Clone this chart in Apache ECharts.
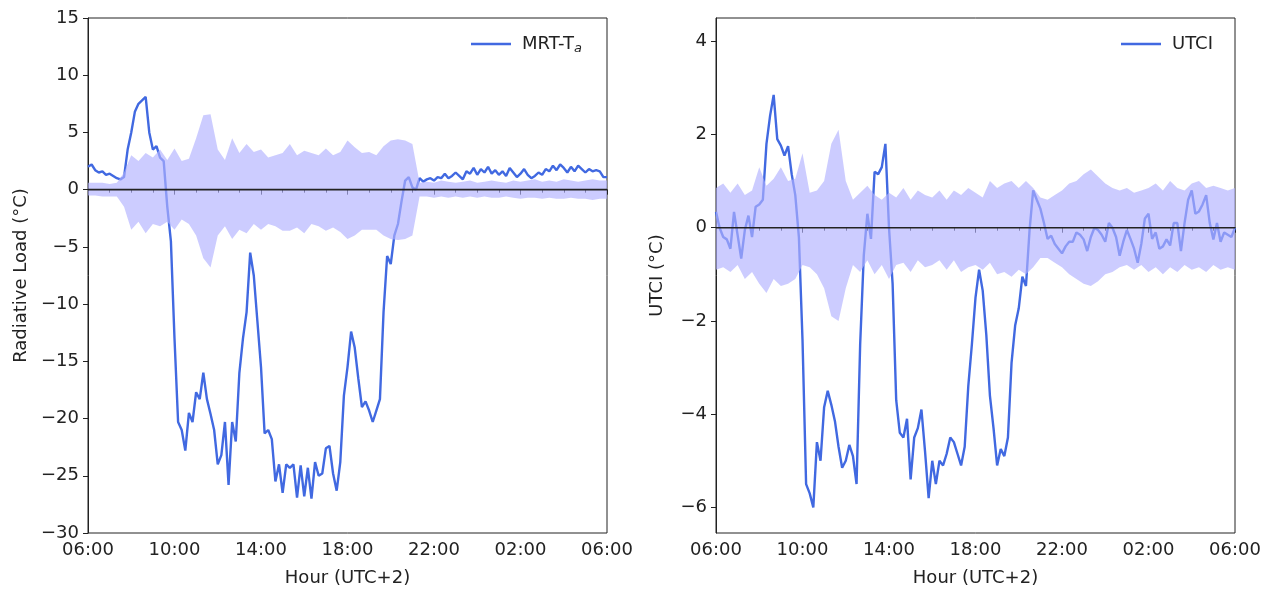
<!DOCTYPE html>
<html>
<head>
<meta charset="utf-8">
<script src="https://cdn.jsdelivr.net/npm/echarts@6/dist/echarts.min.js"></script>
<style>
  html, body { margin: 0; padding: 0; background: #fff; }
  #chart { width: 1269px; height: 592px; }
</style>
</head>
<body>
<div id="chart"></div>
<script>
// Hours since 06:00; line sampled every 10 min, spread band every 20 min
const lineStep = 1 / 6;
const bandStep = 1 / 3;
const hourTickLabels = ['06:00', '10:00', '14:00', '18:00', '22:00', '02:00', '06:00'];
const utciTicks = [-6, -4, -2, 0, 2, 4];

// MRT - Ta (radiative load)
const mrtLine = [
  2.0, 2.2, 1.7, 1.5, 1.6, 1.3, 1.4, 1.2, 1.0, 0.9,
  1.1, 3.5, 5.0, 6.8, 7.5, 7.8, 8.1, 5.0, 3.5, 3.8,
  2.8, 2.5, -1.5, -4.5, -13.0, -20.3, -21.0, -22.8, -19.5, -20.3,
  -17.7, -18.3, -16.0, -18.3, -19.6, -21.0, -24.0, -23.2, -20.3, -25.8,
  -20.3, -22.0, -16.0, -13.0, -10.7, -5.5, -7.5, -11.5, -15.5, -21.3,
  -21.0, -21.8, -25.5, -24.0, -26.5, -24.0, -24.3, -24.0, -26.9, -24.1,
  -26.8, -24.3, -27.0, -23.8, -25.0, -24.8, -22.6, -22.4, -24.8, -26.3,
  -23.8, -18.0, -15.5, -12.4, -13.8, -16.5, -19.0, -18.5, -19.3, -20.3,
  -19.3, -18.3, -10.7, -5.8, -6.5, -4.0, -3.0, -1.0, 0.8, 1.1,
  0.2, 0.0, 1.0, 0.7, 0.9, 1.0, 0.8, 1.1, 1.0, 1.4,
  1.0, 1.2, 1.5, 1.2, 0.9, 1.6, 1.4, 1.9, 1.3, 1.8,
  1.5, 2.0, 1.4, 1.7, 1.3, 1.6, 1.2, 1.9, 1.5, 1.1,
  1.4, 1.8, 1.3, 1.0, 1.2, 1.5, 1.3, 1.8, 1.6, 2.1,
  1.7, 2.2, 1.9, 1.5, 2.0, 1.6, 2.1, 1.8, 1.5, 1.8,
  1.6, 1.7, 1.6, 1.1, 1.1
];
const mrtUpper = [
  0.6, 0.6, 0.6, 0.5, 0.6, 1.5, 3.0, 2.5, 3.2, 2.8,
  3.5, 2.6, 3.6, 2.5, 2.7, 4.5, 6.5, 6.6, 3.5, 2.6,
  4.5, 3.2, 4.0, 3.3, 3.5, 2.8, 3.0, 3.2, 4.0, 3.0,
  3.4, 3.2, 3.0, 3.6, 3.0, 3.3, 4.3, 3.7, 3.2, 3.3,
  3.0, 3.8, 4.3, 4.4, 4.3, 4.0, 0.6, 0.7, 0.6, 0.8,
  0.7, 0.6, 0.7, 0.8, 0.6, 0.7, 0.8, 0.7, 0.6, 0.8,
  0.7, 0.8, 0.9, 0.7, 0.8, 0.7, 0.9, 0.8, 0.7, 0.8,
  0.9, 0.8, 0.8
];
const mrtLower = [
  -0.5, -0.5, -0.6, -0.6, -0.6, -1.5, -3.5, -2.8, -3.8, -3.0,
  -3.2, -2.8, -3.5, -2.6, -3.0, -4.0, -6.0, -6.8, -4.0, -3.2,
  -4.3, -3.5, -3.8, -3.0, -3.5, -3.0, -3.2, -3.6, -3.6, -3.3,
  -3.8, -3.0, -3.2, -3.6, -3.3, -3.7, -4.3, -4.0, -3.5, -3.5,
  -3.5, -4.0, -4.3, -4.4, -4.3, -4.0, -0.6, -0.6, -0.7, -0.6,
  -0.7, -0.6, -0.7, -0.6, -0.7, -0.6, -0.7, -0.7, -0.6, -0.7,
  -0.8, -0.7, -0.7, -0.8, -0.7, -0.8, -0.8, -0.7, -0.8, -0.8,
  -0.9, -0.8, -0.8
];

// UTCI
const utciLine = [
  0.34, 0.0, -0.2, -0.25, -0.45, 0.34, -0.16, -0.66, -0.05, 0.26,
  -0.2, 0.45, 0.5, 0.6, 1.8, 2.4, 2.85, 1.9, 1.76, 1.55,
  1.75, 1.15, 0.7, -0.2, -2.4, -5.5, -5.7, -6.0, -4.6, -5.0,
  -3.85, -3.5, -3.8, -4.15, -4.7, -5.15, -5.0, -4.66, -4.9, -5.5,
  -2.5, -0.6, 0.3, -0.24, 1.2, 1.15, 1.3, 1.8, 0.0, -1.2,
  -3.7, -4.4, -4.5, -4.1, -5.4, -4.5, -4.3, -3.9, -4.8, -5.8,
  -5.0, -5.5, -5.0, -5.1, -4.85, -4.5, -4.6, -4.85, -5.1, -4.7,
  -3.4, -2.5, -1.5, -0.9, -1.35, -2.3, -3.6, -4.3, -5.1, -4.75,
  -4.9, -4.5, -2.9, -2.1, -1.73, -1.05, -1.25, -0.05, 0.8, 0.6,
  0.41, 0.1, -0.24, -0.17, -0.35, -0.45, -0.55, -0.4, -0.3, -0.3,
  -0.1, -0.15, -0.25, -0.5, -0.2, 0.0, -0.05, -0.15, -0.3, 0.1,
  0.0, -0.2, -0.6, -0.3, -0.05, -0.24, -0.45, -0.75, -0.35, 0.2,
  0.3, -0.24, -0.1, -0.45, -0.4, -0.25, -0.38, 0.1, 0.1, -0.5,
  0.1, 0.6, 0.8, 0.3, 0.35, 0.5, 0.7, 0.1, -0.25, 0.1,
  -0.3, -0.1, -0.15, -0.2, 0.0
];
const utciUpper = [
  0.85, 0.95, 0.75, 0.95, 0.7, 0.8, 1.3, 0.9, 1.05, 1.3,
  1.0, 1.05, 1.6, 0.75, 0.8, 1.0, 1.8, 2.1, 1.0, 0.6,
  0.75, 0.9, 0.7, 0.6, 0.75, 0.65, 0.85, 0.6, 0.8, 0.7,
  0.65, 0.8, 0.6, 0.8, 0.7, 0.85, 0.75, 0.65, 1.0, 0.85,
  0.95, 1.0, 0.85, 1.0, 0.85, 0.65, 0.6, 0.7, 0.8, 0.95,
  1.0, 1.15, 1.25, 1.1, 0.95, 0.85, 0.8, 0.85, 0.75, 0.8,
  0.85, 0.95, 0.8, 1.0, 0.85, 0.8, 0.95, 1.0, 0.85, 0.9,
  0.85, 0.8, 0.85
];
const utciLower = [
  -0.9, -0.85, -0.95, -0.8, -1.1, -0.95, -1.2, -1.4, -1.1, -1.25,
  -1.2, -1.1, -0.8, -0.85, -1.0, -1.3, -1.9, -2.0, -1.3, -0.8,
  -0.95, -0.7, -1.0, -0.8, -1.1, -0.8, -0.75, -0.95, -0.7, -0.85,
  -0.8, -0.7, -0.9, -0.7, -0.95, -0.85, -0.8, -0.9, -0.75, -1.0,
  -0.95, -1.05, -0.9, -1.0, -0.85, -0.65, -0.65, -0.75, -0.85, -1.0,
  -1.1, -1.2, -1.25, -1.15, -1.0, -0.95, -0.85, -0.8, -0.9, -0.8,
  -0.95, -0.85, -1.0, -0.85, -0.95, -0.8, -0.9, -0.85, -0.95, -0.8,
  -0.9, -0.85, -0.9
];

const LINE_COLOR = '#4169e1';
const BAND_COLOR = 'rgba(178, 178, 255, 0.66)';
const AXIS_COLOR = '#222';
const FONT = 'DejaVu Sans';

const toPoints = (vals, step) => vals.map((v, i) => [i * step, v]);

function makeXAxis(gridIndex) {
  return {
    type: 'value', gridIndex, min: 0, max: 24, interval: 4,
    name: 'Hour (UTC+2)', nameLocation: 'middle', nameGap: 36,
    nameTextStyle: { fontFamily: FONT, fontSize: 18, color: AXIS_COLOR },
    axisLine: { lineStyle: { color: AXIS_COLOR, width: 1 } },
    axisTick: { show: true, length: 5, lineStyle: { color: AXIS_COLOR } },
    minorTick: { show: true, splitNumber: 4, length: 3, lineStyle: { color: AXIS_COLOR } },
    axisLabel: {
      fontFamily: FONT, fontSize: 18, color: AXIS_COLOR, margin: 8,
      showMinLabel: true, showMaxLabel: true,
      formatter: v => hourTickLabels[Math.round(v / 4)]
    },
    splitLine: { show: false }
  };
}

function makeYAxis(gridIndex, name, extra, nameGap) {
  return Object.assign({
    type: 'value', gridIndex, name, nameLocation: 'middle', nameGap,
    nameTextStyle: { fontFamily: FONT, fontSize: 18, color: AXIS_COLOR },
    axisLine: { show: true, lineStyle: { color: AXIS_COLOR, width: 1 } },
    axisTick: { show: true, length: 5, lineStyle: { color: AXIS_COLOR } },
    axisLabel: { fontFamily: FONT, fontSize: 18, color: AXIS_COLOR, margin: 9,
      formatter: v => (v < 0 ? '\u2212' + Math.abs(v) : String(v)) },
    splitLine: { show: false }
  }, extra);
}

// band polygon: upper edge left->right, lower edge right->left
function bandSeries(idx, upper, lower) {
  return {
    type: 'custom', xAxisIndex: idx, yAxisIndex: idx, silent: true, z: 3,
    data: [[0, 0]],
    renderItem: (params, api) => {
      const pts = [];
      upper.forEach((u, i) => pts.push(api.coord([i * bandStep, u])));
      for (let i = lower.length - 1; i >= 0; i--) pts.push(api.coord([i * bandStep, lower[i]]));
      return { type: 'polygon', shape: { points: pts }, style: { fill: BAND_COLOR } };
    }
  };
}

function panelSeries(idx, name, line, upper, lower) {
  return [
    {
      name, type: 'line', xAxisIndex: idx, yAxisIndex: idx,
      data: toPoints(line, lineStep), showSymbol: false, symbol: 'none',
      lineStyle: { color: LINE_COLOR, width: 2.4 }, itemStyle: { color: LINE_COLOR },
      z: 2
    },
    bandSeries(idx, upper, lower),
    {
      type: 'line', xAxisIndex: idx, yAxisIndex: idx, data: [[0, 0], [24, 0]],
      symbol: 'none', lineStyle: { color: AXIS_COLOR, width: 1.6 }, silent: true, z: 5
    }
  ];
}

const chart = echarts.init(document.getElementById('chart'), null, { renderer: 'canvas' });

const legendBase = {
  orient: 'horizontal', top: 30, icon: 'rect', itemWidth: 40, itemHeight: 2.5,
  itemStyle: { color: LINE_COLOR },
  textStyle: {
    fontFamily: FONT, fontSize: 18, color: AXIS_COLOR, padding: [0, 0, 0, 6],
    rich: {
      n: { fontFamily: FONT, fontSize: 18, color: AXIS_COLOR },
      s: { fontFamily: FONT, fontSize: 13, fontStyle: 'italic', color: AXIS_COLOR, padding: [9, 0, 0, 0] }
    }
  }
};

chart.setOption({
  animation: false,
  backgroundColor: '#fff',
  grid: [
    { left: 88, top: 18, width: 519, height: 517, show: true, borderColor: AXIS_COLOR, borderWidth: 1, backgroundColor: 'transparent' },
    { left: 716, top: 18, width: 519, height: 517, show: true, borderColor: AXIS_COLOR, borderWidth: 1, backgroundColor: 'transparent' }
  ],
  legend: [
    Object.assign({}, legendBase, {
      left: 466, data: ['MRT-Ta'],
      formatter: () => '{n|MRT-T}{s|a}'
    }),
    Object.assign({}, legendBase, { left: 1116, data: ['UTCI'] })
  ],
  xAxis: [makeXAxis(0), makeXAxis(1)],
  yAxis: [
    makeYAxis(0, 'Radiative Load (\u00b0C)', { min: -30, max: 15, interval: 5 }, 58),
    makeYAxis(1, 'UTCI (\u00b0C)', {
      min: -6.55, max: 4.5,
      axisTick: { show: true, length: 5, lineStyle: { color: AXIS_COLOR }, customValues: utciTicks },
      axisLabel: { fontFamily: FONT, fontSize: 18, color: AXIS_COLOR, margin: 9, customValues: utciTicks,
        formatter: v => (v < 0 ? '\u2212' + Math.abs(v) : String(v)) }
    }, 50)
  ],
  series: [
    ...panelSeries(0, 'MRT-Ta', mrtLine, mrtUpper, mrtLower),
    ...panelSeries(1, 'UTCI', utciLine, utciUpper, utciLower)
  ]
});
</script>
</body>
</html>
